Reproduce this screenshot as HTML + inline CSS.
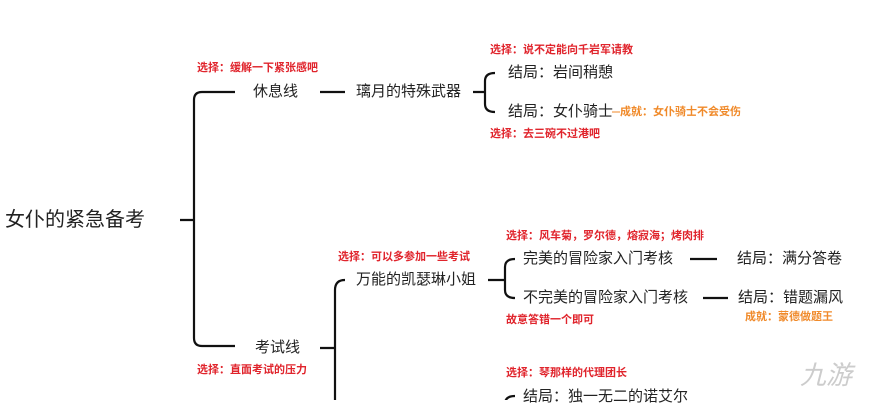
<!DOCTYPE html>
<html><head><meta charset="utf-8"><style>
body{margin:0;width:888px;height:400px;background:#fff;position:relative;overflow:hidden;font-family:"Liberation Sans","Noto Sans CJK SC",sans-serif}
.t{position:absolute;font-size:15px;color:#222;white-space:nowrap;line-height:18px}
.r{position:absolute;font-size:11px;font-weight:bold;color:#e0242c;white-space:nowrap;line-height:13px}
.o{position:absolute;font-size:11px;font-weight:bold;color:#f08a2a;white-space:nowrap;line-height:13px}
svg{position:absolute;left:0;top:0}
</style></head><body>
<svg width="888" height="400" fill="none" stroke="#111" stroke-width="2.2">
<path d="M180 220H193M235 92H202Q194 92 194 100V338Q194 346 202 346H235"/>
<path d="M320 92H345M473 92H485M495 73Q485 73 485 81V104Q485 112 495 112"/>
<path d="M320 348H335M345 280Q335 280 335 290V400"/>
<path d="M488 280H505M515 259Q505 259 505 267V290Q505 298 515 298M690 259H717M703 298H728M515 396Q505 396 505 404"/>
<path d="M612 112H620" stroke="#f08a2a" stroke-width="1"/>
</svg>
<div class="t" style="left:5px;top:208px;font-size:20px;line-height:24px">女仆的紧急备考</div>
<div class="r" style="left:197px;top:62px">选择：缓解一下紧张感吧</div>
<div class="t" style="left:253px;top:83px">休息线</div>
<div class="t" style="left:356px;top:83px">璃月的特殊武器</div>
<div class="r" style="left:490px;top:44px">选择：说不定能向千岩军请教</div>
<div class="t" style="left:508px;top:64px">结局：岩间稍憩</div>
<div class="t" style="left:508px;top:103px">结局：女仆骑士</div>
<div class="o" style="left:620px;top:106px">成就：女仆骑士不会受伤</div>
<div class="r" style="left:490px;top:128px">选择：去三碗不过港吧</div>
<div class="t" style="left:255px;top:339px">考试线</div>
<div class="r" style="left:197px;top:364px">选择：直面考试的压力</div>
<div class="r" style="left:338px;top:251px">选择：可以多参加一些考试</div>
<div class="t" style="left:356px;top:271px">万能的凯瑟琳小姐</div>
<div class="r" style="left:506px;top:230px">选择：风车菊，罗尔德，熔寂海；烤肉排</div>
<div class="t" style="left:523px;top:250px">完美的冒险家入门考核</div>
<div class="t" style="left:737px;top:250px">结局：满分答卷</div>
<div class="t" style="left:523px;top:289px">不完美的冒险家入门考核</div>
<div class="t" style="left:738px;top:289px">结局：错题漏风</div>
<div class="o" style="left:745px;top:311px">成就：蒙德做题王</div>
<div class="r" style="left:506px;top:314px">故意答错一个即可</div>
<div class="r" style="left:506px;top:367px">选择：琴那样的代理团长</div>
<div class="t" style="left:523px;top:388px">结局：独一无二的诺艾尔</div>
<div style="position:absolute;left:800px;top:355px;font-size:26px;font-style:italic;color:#ccc;font-family:'Noto Sans CJK SC',sans-serif">九游</div>
</body></html>
